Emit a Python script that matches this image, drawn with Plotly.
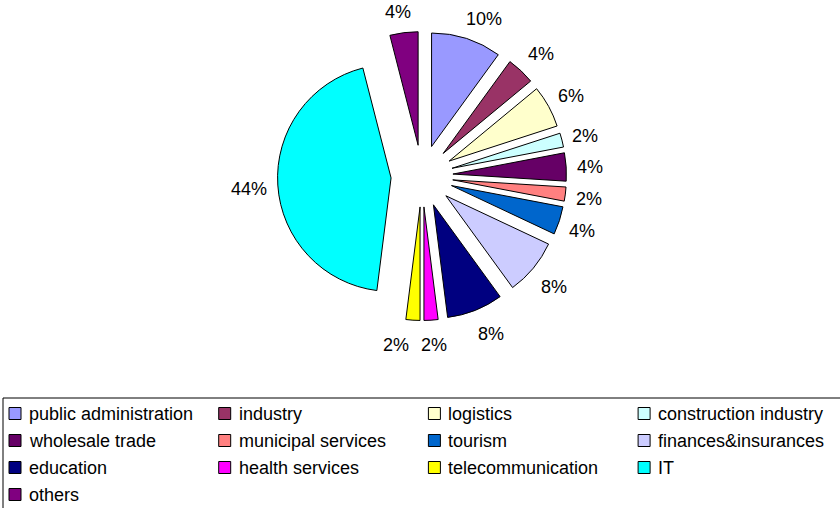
import math
import plotly.graph_objects as go

# Sector shares (percent of respondents)
sectors = [
    "public administration", "industry", "logistics", "construction industry",
    "wholesale trade", "municipal services", "tourism", "finances&insurances",
    "education", "health services", "telecommunication", "IT", "others",
]
shares = [10, 4, 6, 2, 4, 2, 4, 8, 8, 2, 2, 44, 4]
colors = [
    "#9999FF", "#993366", "#FFFFCC", "#CCFFFF", "#660066", "#FF8080", "#0066CC",
    "#CCCCFF", "#000080", "#FF00FF", "#FFFF00", "#00FFFF", "#800080",
]

W, H = 840, 508
FONT = "Liberation Sans, Arial, sans-serif"
FS = 18

# pie geometry in pixels
CX, CY = 422, 176
R = 113.5
PULL = 0.273
half = R * (1 + PULL)

fig = go.Figure(
    go.Pie(
        labels=sectors,
        values=shares,
        sort=False,
        direction="clockwise",
        rotation=0,
        pull=[PULL] * len(shares),
        marker=dict(colors=colors, line=dict(color="#000000", width=1)),
        textinfo="none",
        hoverinfo="label+percent",
        showlegend=False,
        domain=dict(
            x=[(CX - half) / W, (CX + half) / W],
            y=[1 - (CY + half) / H, 1 - (CY - half) / H],
        ),
    )
)

annotations = []
shapes = []


def clamp(v):
    return max(-1.0, min(1.0, v))


# percentage labels placed outside each slice, near its mid-angle
total = sum(shares)
cum = 0
labels = []
LBL_R, LBL_CY = 155, 178
for v in shares:
    a = 2 * math.pi * (cum + v / 2) / total
    cum += v
    txt = f"{round(100 * v / total)}%"
    w = FS * (0.556 * (len(txt) - 1) + 0.889)
    px = CX + LBL_R * math.sin(a) + (w / 2) * clamp(2.5 * math.sin(a))
    py = LBL_CY - LBL_R * math.cos(a) - 12 * clamp(1.3 * math.cos(a))
    labels.append([px, py, w, txt, a])

# nudge a label sideways when it collides with the previous one
for i in range(1, len(labels)):
    px0, py0, w0, _, _ = labels[i - 1]
    px1, py1, w1, _, a1 = labels[i]
    if abs(py1 - py0) < 14 and abs(px1 - px0) < (w0 + w1) / 2 + 10:
        direction = 1 if math.sin(a1) >= 0 else -1
        labels[i][0] = px0 + direction * ((w0 + w1) / 2 + 12)

for px, py, w, txt, a in labels:
    annotations.append(dict(
        x=px / W, y=1 - py / H, xref="paper", yref="paper",
        text=txt, showarrow=False, xanchor="center", yanchor="middle",
        font=dict(family=FONT, size=FS, color="#000000"),
    ))

# legend frame
shapes.append(dict(
    type="rect", xref="paper", yref="paper",
    x0=3 / W, x1=(W + 20) / W, y0=1 - (H + 20) / H, y1=1 - 398 / H,
    line=dict(color="#000000", width=1), fillcolor="rgba(0,0,0,0)",
))

# legend entries: 4 columns, row-major
NCOL = 4
COL_X0, COL_DX = 9, 209.7
ROW_Y0, ROW_DY = 413.5, 27
BOX = 12
for i, (name, c) in enumerate(zip(sectors, colors)):
    col, row = i % NCOL, i // NCOL
    x0 = COL_X0 + col * COL_DX
    yc = ROW_Y0 + row * ROW_DY
    shapes.append(dict(
        type="rect", xref="paper", yref="paper",
        x0=x0 / W, x1=(x0 + BOX) / W,
        y0=1 - (yc + BOX / 2) / H, y1=1 - (yc - BOX / 2) / H,
        fillcolor=c, line=dict(color="#000000", width=1),
    ))
    annotations.append(dict(
        x=(x0 + 18) / W, y=1 - yc / H, xref="paper", yref="paper",
        text=name, showarrow=False, xanchor="left", yanchor="middle",
        font=dict(family=FONT, size=FS, color="#000000"),
    ))

fig.update_layout(
    width=W, height=H,
    margin=dict(l=0, r=0, t=0, b=0),
    paper_bgcolor="#FFFFFF",
    plot_bgcolor="#FFFFFF",
    annotations=annotations,
    shapes=shapes,
)

fig.write_html("out.html")
